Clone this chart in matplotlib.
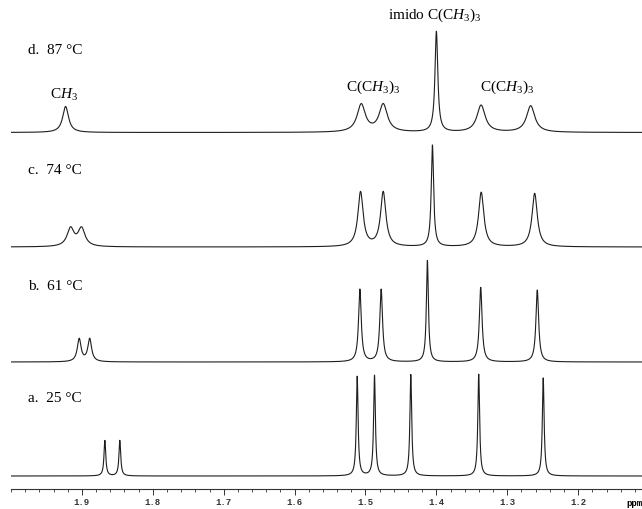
import matplotlib
matplotlib.use("Agg")
import matplotlib.pyplot as plt
from matplotlib.ticker import MultipleLocator
import numpy as np

plt.rcParams['font.family'] = ['Liberation Serif', 'DejaVu Serif']
plt.rcParams['mathtext.fontset'] = 'custom'
plt.rcParams['mathtext.rm'] = 'Liberation Serif'
plt.rcParams['mathtext.it'] = 'Liberation Serif:italic'

# peaks: position (ppm), height, half width (ppm)
labels = ["a.  25 °C", "b.  61 °C", "c.  74 °C", "d.  87 °C"]
baselines = [13, 127, 242, 356.5]

pos_a = [1.8676, 1.8465, 1.5117, 1.4873, 1.4361, 1.3403, 1.2493]
amp_a = [35.5, 35.5, 99.5, 100.5, 101.5, 102, 98.3]
hw_a = [0.0015, 0.0015, 0.0015, 0.0015, 0.0015, 0.0015, 0.0015]

pos_b = [1.9038, 1.8890, 1.5079, 1.4779, 1.4127, 1.3375, 1.2577]
amp_b = [22.8, 22.8, 72.5, 72.5, 101.5, 74.5, 72]
hw_b = [0.0032, 0.0032, 0.0023, 0.0023, 0.0017, 0.0023, 0.0023]

pos_c = [1.9160, 1.9005, 1.5070, 1.4750, 1.4056, 1.3368, 1.2614]
amp_c = [18, 18, 54.5, 54.5, 101.5, 54.5, 53.5]
hw_c = [0.0059, 0.0059, 0.0045, 0.0045, 0.0020, 0.0045, 0.0045]

pos_d = [1.9230, 1.5060, 1.4750, 1.4000, 1.3370, 1.2670]
amp_d = [26, 27.5, 27.5, 100.5, 27, 26.5]
hw_d = [0.0050, 0.0070, 0.0070, 0.0024, 0.0070, 0.0070]

spectra = [(pos_a, amp_a, hw_a), (pos_b, amp_b, hw_b),
           (pos_c, amp_c, hw_c), (pos_d, amp_d, hw_d)]

fig = plt.figure(figsize=(6.42, 5.09), dpi=100)
ax = fig.add_axes([11 / 642, 20 / 509, 1 - 11 / 642, 489 / 509])

ppm = np.linspace(2.0, 1.11, 5000)
for (pos, amp, hw), base in zip(spectra, baselines):
    y = np.zeros_like(ppm)
    for p, a, g in zip(pos, amp, hw):
        y += a * g**2 / (g**2 + (ppm - p)**2)
    ax.plot(ppm, base + y, color='#1e1e1e', lw=0.8)

# temperature labels
label_y = [91, 202, 319, 439]
for txt, ly in zip(labels, label_y):
    ax.text(1.9765, ly, txt, fontsize=11, ha='left', va='center')

# peak assignments
ax.text(1.9245, 394, r"C$\mathit{H}_{\mathrm{3}}$", fontsize=11, ha='center', va='center')
ax.text(1.4893, 402, r"C(C$\mathit{H}_{\mathrm{3}}$)$_{\mathrm{3}}$", fontsize=11, ha='center', va='center')
ax.text(1.3004, 402, r"C(C$\mathit{H}_{\mathrm{3}}$)$_{\mathrm{3}}$", fontsize=11, ha='center', va='center')
ax.text(1.4025, 474, r"imido C(C$\mathit{H}_{\mathrm{3}}$)$_{\mathrm{3}}$", fontsize=11, ha='center', va='center')

ax.set_xlim(2.0, 1.11)
ax.set_ylim(0, 489)
for s in ['top', 'left', 'right']:
    ax.spines[s].set_visible(False)
ax.spines['bottom'].set_linewidth(0.8)
ax.spines['bottom'].set_color('#333333')
ax.set_yticks([])
ax.xaxis.set_minor_locator(MultipleLocator(0.02))
ax.tick_params(axis='x', which='major', length=4, width=0.7, pad=2.5, colors='#333333')
ax.tick_params(axis='x', which='minor', length=2, width=0.6, colors='#333333')
ax.set_xticks(np.arange(1.2, 1.95, 0.1))
ax.set_xticklabels(["1.2", "1.3", "1.4", "1.5", "1.6", "1.7", "1.8", "1.9"],
                   fontfamily='Liberation Mono', fontweight='bold', fontsize=6.5)
ax.text(1.1314, -14, "ppm", fontfamily='Liberation Mono', fontweight='bold',
        fontsize=6.5, ha='left', va='center', clip_on=False)

fig.savefig("out.png", dpi=100)
